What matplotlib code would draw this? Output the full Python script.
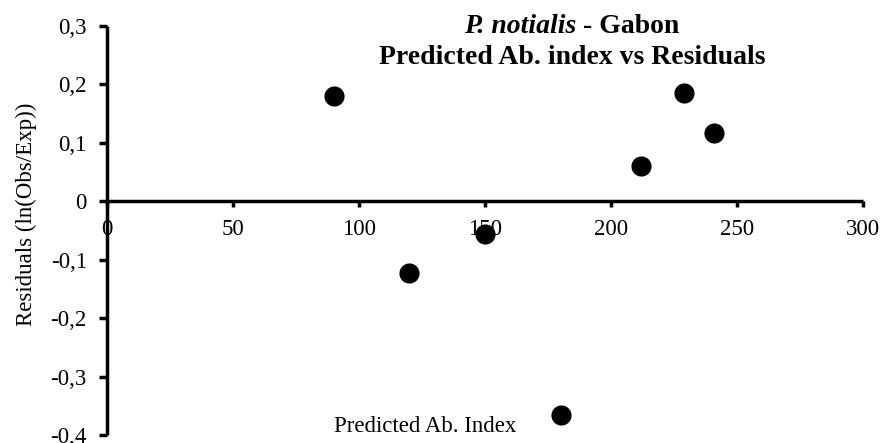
import matplotlib
matplotlib.use("Agg")
import matplotlib.pyplot as plt
from matplotlib.ticker import FuncFormatter

# Predicted abundance index and log residuals, P. notialis - Gabon
predicted = [90, 120, 150, 180, 212, 229, 241]
residuals = [0.180, -0.123, -0.056, -0.365, 0.060, 0.185, 0.117]

x_ticks = [0, 50, 100, 150, 200, 250, 300]
y_ticks = [-0.4, -0.3, -0.2, -0.1, 0.0, 0.1, 0.2, 0.3]

title_species = "P. notialis"
title_region = " - Gabon"
title_line2 = "Predicted Ab. index vs Residuals"
x_label = "Predicted Ab. Index"
y_label = "Residuals (ln(Obs/Exp))"

plt.rcParams["font.family"] = ["Liberation Serif", "DejaVu Serif"]

W, H = 884, 443
fig = plt.figure(figsize=(W / 100, H / 100), dpi=100)
ax = fig.add_axes([107 / W, 1 - 435 / H, (863 - 107) / W, (435 - 26) / H])

ax.scatter(predicted, residuals, s=14.5 ** 2, color="black", zorder=3,
           clip_on=False, linewidths=0)

ax.set_xlim(0, 300)
ax.set_ylim(-0.4, 0.3)
ax.set_xticks(x_ticks)
ax.set_yticks(y_ticks)


def comma_fmt(v, pos):
    s = f"{v:.1f}".replace(".", ",")
    if s in ("0,0", "-0,0"):
        return "0"
    return s


ax.yaxis.set_major_formatter(FuncFormatter(comma_fmt))
ax.xaxis.set_major_formatter(FuncFormatter(lambda v, p: f"{v:.0f}"))

for side in ("top", "right"):
    ax.spines[side].set_visible(False)
ax.spines["left"].set_position(("data", 0))
ax.spines["bottom"].set_position(("data", 0))
for side in ("left", "bottom"):
    ax.spines[side].set_linewidth(2.5)
    ax.spines[side].set_capstyle("butt")

ax.tick_params(axis="y", direction="out", length=5.5, width=2.5,
               labelsize=16.5, pad=9)
ax.tick_params(axis="x", direction="out", length=4.5, width=2.5,
               labelsize=16.5, pad=8)

fig.text(26 / W, 1 - 214 / H, y_label, rotation=90,
         ha="center", va="center", fontsize=16.5)
fig.text(425 / W, 1 - 426 / H, x_label,
         ha="center", va="center", fontsize=16.5)

# First title line: italic species name followed by upright region,
# laid out as two pieces centred together.
renderer = fig.canvas.get_renderer()
t1 = fig.text(0, 1 - 33 / H, title_species, ha="left", va="baseline",
              fontsize=20, fontweight="bold", fontstyle="italic")
t2 = fig.text(0, 1 - 33 / H, title_region, ha="left", va="baseline",
              fontsize=20, fontweight="bold")
w1 = t1.get_window_extent(renderer).width
w2 = t2.get_window_extent(renderer).width
x0 = 572 - (w1 + w2) / 2
t1.set_x(x0 / W)
t2.set_x((x0 + w1) / W)

fig.text(572 / W, 1 - 64 / H, title_line2,
         ha="center", va="baseline", fontsize=20, fontweight="bold")

fig.savefig("out.png", dpi=100)
